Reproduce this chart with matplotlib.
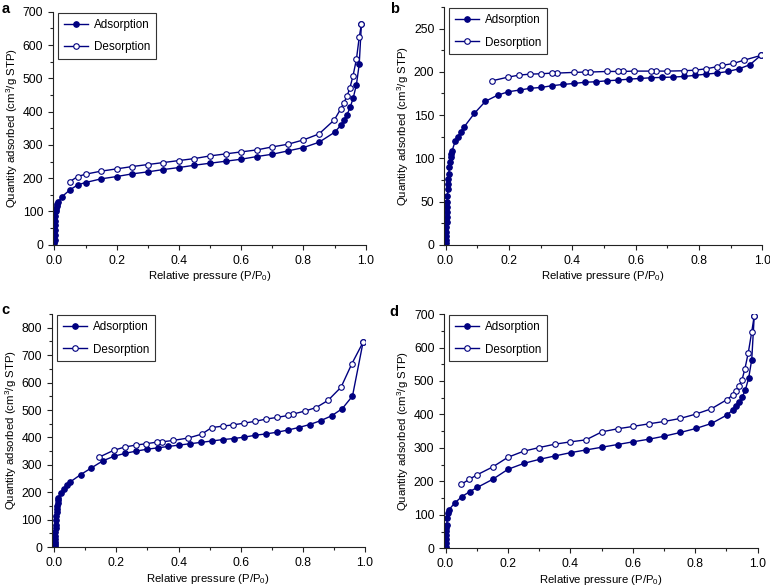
import matplotlib
matplotlib.use('Agg')
import matplotlib.pyplot as plt
from matplotlib.ticker import MultipleLocator

plt.rcParams['font.family'] = ['Liberation Sans', 'DejaVu Sans']
plt.rcParams['mathtext.default'] = 'regular'

# ---- panel a ----
a_ads_p = [0.0003, 0.0006, 0.001, 0.0015, 0.002, 0.0025, 0.003, 0.004, 0.005, 0.007, 0.009, 0.011,
           0.025, 0.05, 0.075, 0.1, 0.15, 0.2, 0.25, 0.3, 0.35, 0.4, 0.45, 0.5, 0.55, 0.6, 0.65, 0.7,
           0.75, 0.8, 0.85, 0.9, 0.92, 0.93, 0.94, 0.95, 0.96, 0.97, 0.979, 0.986]
a_ads_q = [5, 15, 30, 45, 60, 72, 85, 100, 108, 117, 122, 127,
           145, 165, 180, 187, 198, 205, 213, 219, 226, 232, 239, 245, 251, 257, 265, 272,
           282, 292, 308, 338, 359, 375, 391, 413, 442, 481, 542, 662]
a_des_p = [0.986, 0.979, 0.97, 0.959, 0.949, 0.94, 0.93, 0.919, 0.899, 0.85, 0.8, 0.75, 0.7, 0.65,
           0.6, 0.55, 0.5, 0.45, 0.4, 0.35, 0.3, 0.25, 0.2, 0.149, 0.1, 0.075, 0.05]
a_des_q = [662, 623, 557, 507, 471, 447, 427, 407, 375, 333, 315, 302, 294, 285,
           279, 273, 267, 259, 253, 247, 241, 235, 228, 221, 212, 205, 190]

# ---- panel b ----
b_ads_p = [0.0005, 0.001, 0.0015, 0.002, 0.0025, 0.003, 0.0035, 0.004, 0.0045, 0.005, 0.006, 0.007,
           0.008, 0.009, 0.010, 0.012, 0.014, 0.016, 0.018, 0.020,
           0.0305, 0.039, 0.048, 0.058, 0.091, 0.126, 0.164, 0.198, 0.234, 0.267, 0.302, 0.336,
           0.371, 0.406, 0.44, 0.475, 0.51, 0.544, 0.58, 0.614, 0.649, 0.684, 0.718, 0.753,
           0.788, 0.823, 0.857, 0.892, 0.927, 0.961, 0.995]
b_ads_q = [2, 6, 10, 15, 20, 26, 32, 38, 44, 50, 57, 64,
           70, 76, 82, 90, 96, 101, 105, 108,
           120, 125, 131, 136, 152, 166, 173, 177, 179, 181, 182, 184,
           185.5, 186.6, 188, 188.6, 189.7, 190.5, 191.6, 192.4, 193.2, 193.6, 194, 194.7,
           196, 197.4, 198.6, 200.5, 203.6, 208.3, 219]
b_des_p = [0.995, 0.943, 0.909, 0.874, 0.857, 0.823, 0.788, 0.753, 0.699, 0.665, 0.649, 0.594,
           0.56, 0.544, 0.51, 0.456, 0.439, 0.406, 0.351, 0.336, 0.301, 0.267, 0.233, 0.198, 0.147]
b_des_q = [219, 213.6, 209.8, 207.5, 206, 203.6, 202, 201.3, 200.9, 200.9, 200.9, 200.9,
           200.5, 200.5, 200.5, 199.8, 199.8, 199.4, 198.6, 198.6, 197.8, 197.4, 196.3, 194, 189.7]

# ---- panel c ----
c_ads_p = [0.0005, 0.001, 0.0015, 0.002, 0.0025, 0.003, 0.0035, 0.004, 0.005, 0.006, 0.007, 0.008,
           0.009, 0.010, 0.011, 0.013,
           0.020, 0.031, 0.041, 0.05, 0.084, 0.118, 0.155, 0.191, 0.228, 0.263, 0.299, 0.333,
           0.367, 0.402, 0.437, 0.473, 0.508, 0.542, 0.578, 0.612, 0.648, 0.683, 0.718, 0.753,
           0.787, 0.823, 0.858, 0.894, 0.928, 0.961, 0.995]
c_ads_q = [3, 10, 20, 30, 42, 55, 68, 80, 98, 115, 128, 140,
           150, 160, 170, 180,
           198, 213, 228, 237, 264, 288, 314, 331, 342, 350, 357, 362,
           367, 372, 377, 382, 387, 392, 396, 401, 408, 413, 419, 427,
           436, 447, 461, 479, 505, 551, 747]
c_des_p = [0.995, 0.959, 0.924, 0.882, 0.844, 0.807, 0.769, 0.753, 0.718, 0.683, 0.648, 0.612,
           0.577, 0.542, 0.507, 0.475, 0.432, 0.383, 0.348, 0.331, 0.296, 0.262, 0.227, 0.191, 0.144]
c_des_q = [747, 669, 583, 535, 509, 496, 485, 480, 473, 467, 459, 452,
           446, 441, 436, 412, 398, 389, 384, 383, 377, 372, 365, 353, 328]

# ---- panel d ----
d_ads_p = [0.0005, 0.001, 0.0015, 0.002, 0.0025, 0.003, 0.004, 0.005, 0.007, 0.011,
           0.029, 0.052, 0.077, 0.102, 0.151, 0.2, 0.252, 0.302, 0.351, 0.402, 0.451, 0.501,
           0.551, 0.6, 0.652, 0.701, 0.752, 0.802, 0.852, 0.901, 0.92, 0.93, 0.941, 0.951,
           0.96, 0.971, 0.981, 0.989]
d_ads_q = [5, 15, 28, 40, 52, 62, 70, 90, 105, 115,
           135, 154, 169, 182, 206, 236, 254, 266, 276, 286, 294, 302,
           310, 318, 326, 335, 346, 358, 373, 398, 413, 425, 437, 453,
           472, 508, 564, 695]
d_des_p = [0.989, 0.981, 0.97, 0.959, 0.95, 0.94, 0.931, 0.92, 0.901, 0.852, 0.802, 0.752,
           0.701, 0.652, 0.6, 0.551, 0.501, 0.45, 0.4, 0.35, 0.3, 0.25, 0.2, 0.151, 0.102,
           0.076, 0.05]
d_des_q = [695, 647, 585, 536, 504, 485, 470, 458, 444, 417, 401, 388,
           379, 372, 364, 357, 348, 324, 318, 311, 301, 290, 272, 243, 220,
           206, 191]

panels = [
    ('a', a_ads_p, a_ads_q, a_des_p, a_des_q, 700, 100, -0.004),
    ('b', b_ads_p, b_ads_q, b_des_p, b_des_q, 275, 50, -0.004),
    ('c', c_ads_p, c_ads_q, c_des_p, c_des_q, 850, 100, -0.008),
    ('d', d_ads_p, d_ads_q, d_des_p, d_des_q, 700, 100, -0.004),
]
positions = [
    [0.069, 0.583, 0.406, 0.397],
    [0.577, 0.583, 0.413, 0.405],
    [0.0675, 0.068, 0.406, 0.397],
    [0.577, 0.066, 0.407, 0.399],
]
letter_pos = {'a': (0.002, 0.997), 'b': (0.506, 0.997), 'c': (0.002, 0.483), 'd': (0.506, 0.480)}

navy = '#000080'
fig = plt.figure(figsize=(7.7, 5.87), dpi=100)

for (letter, ap, aq, dp, dq, ymax, ystep, xmin), pos in zip(panels, positions):
    ax = fig.add_axes(pos)
    ax.plot(ap, aq, '-o', color=navy, lw=1.0, ms=4, mfc=navy, mec=navy, mew=0.8,
            label='Adsorption')
    ax.plot(dp, dq, '-o', color=navy, lw=1.0, ms=4, mfc='white', mec=navy, mew=0.8,
            label='Desorption')
    ax.set_xlim(xmin, 1.0)
    ax.set_ylim(0, ymax)
    ax.xaxis.set_major_locator(MultipleLocator(0.2))
    ax.xaxis.set_minor_locator(MultipleLocator(0.1))
    ax.yaxis.set_major_locator(MultipleLocator(ystep))
    ax.yaxis.set_minor_locator(MultipleLocator(ystep / 2))
    ax.xaxis.set_major_formatter(plt.FormatStrFormatter('%.1f'))
    ax.spines['top'].set_visible(False)
    ax.spines['right'].set_visible(False)
    for s in ('left', 'bottom'):
        ax.spines[s].set_linewidth(0.8)
        ax.spines[s].set_color('#222222')
    ax.tick_params(which='major', direction='out', length=3.6, width=0.8, pad=3.5,
                   labelsize=8.8, color='#222222')
    ax.tick_params(which='minor', direction='out', length=2, width=0.8, color='#222222')
    ax.set_xlabel('Relative pressure (P/P$_0$)', fontsize=8.2, labelpad=2)
    ax.set_ylabel('Quantity adsorbed (cm$^3$/g STP)', fontsize=8.2, labelpad=2)
    leg = ax.legend(loc='upper left', bbox_to_anchor=(0.016, 0.995), borderaxespad=0,
                    fontsize=8.4, fancybox=False, edgecolor='#333333', framealpha=1,
                    handlelength=2.05, handletextpad=0.5, labelspacing=0.9, borderpad=0.5)
    leg.get_frame().set_linewidth(0.8)
    # panel letter
    lx, ly = letter_pos[letter]
    fig.text(lx, ly, letter, fontsize=10.5, fontweight='bold', va='top', ha='left')

fig.savefig('out.png', dpi=100)
